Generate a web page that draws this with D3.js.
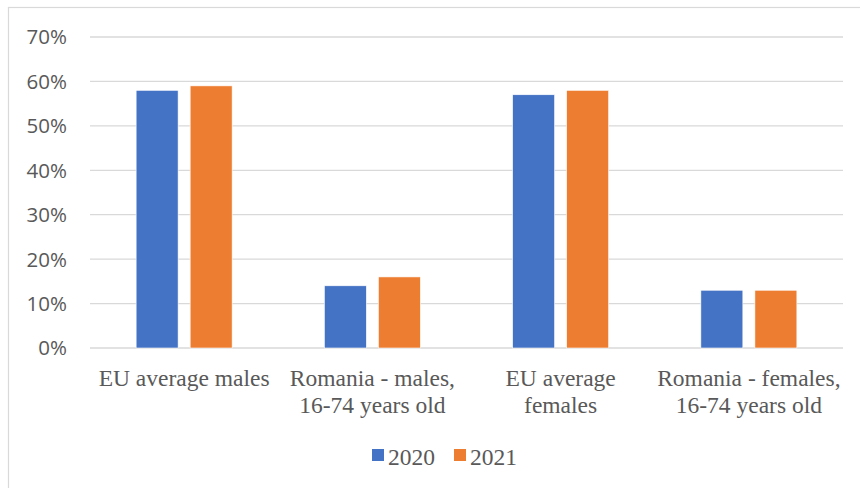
<!DOCTYPE html>
<html>
<head>
<meta charset="utf-8">
<script src="https://cdn.jsdelivr.net/npm/d3@7"></script>
<style>
  html, body { margin: 0; padding: 0; background: #ffffff; }
  svg { display: block; }
  .serif { font-family: "Liberation Serif", "Times New Roman", Times, "Nimbus Roman", "Nimbus Roman No9 L", FreeSerif, "Noto Serif", "DejaVu Serif", Tinos, Georgia, serif; }
</style>
</head>
<body>
<div id="chart"></div>
<script>
// Share of people (%) by group, 2020 vs 2021
const categories = [
  ["EU average males"],
  ["Romania - males,", "16-74 years old"],
  ["EU average", "females"],
  ["Romania - females,", "16-74 years old"]
];
const seriesNames = ["2020", "2021"];
const values2020 = [58, 14, 57, 13];
const values2021 = [59, 16, 58, 13];
const yTicks = [0, 10, 20, 30, 40, 50, 60, 70];
const colors = ["#4472C4", "#ED7D31"];

const W = 860, H = 488;
const plot = { left: 90, right: 843, top: 37, bottom: 348 };

const svg = d3.select("#chart").append("svg")
  .attr("width", W).attr("height", H);

// chart area outline (open to the right and bottom)
svg.append("rect")
  .attr("x", 8.5).attr("y", 7.5)
  .attr("width", 900).attr("height", 600)
  .attr("fill", "#ffffff")
  .attr("stroke", "#D9D9D9").attr("stroke-width", 1.2);

const x = d3.scaleBand()
  .domain(d3.range(categories.length))
  .range([plot.left, plot.right])
  .paddingInner(0).paddingOuter(0);

const y = d3.scaleLinear().domain([0, 70]).range([plot.bottom, plot.top]);

// horizontal gridlines
svg.append("g").selectAll("line")
  .data(yTicks)
  .join("line")
  .attr("x1", plot.left).attr("x2", plot.right)
  .attr("y1", d => y(d)).attr("y2", d => y(d))
  .attr("stroke", "#D9D9D9").attr("stroke-width", 1.3);

// y axis labels
const yAxis = d3.axisLeft(y).tickValues(yTicks).tickFormat(d => d + "%").tickSize(0).tickPadding(0);
const yg = svg.append("g").attr("transform", `translate(${67},0)`).call(yAxis);
yg.select(".domain").remove();
yg.selectAll("text")
  .attr("font-family", "'Open Sans', sans-serif")
  .attr("font-size", 20.5)
  .attr("fill", "#595959")
  .attr("dy", "0.34em");

// bars
const series = [values2020, values2021];
const bw = x.bandwidth();
const barW = bw * 0.223;
const gap = bw * 0.064;
const inner = d3.scaleBand().domain([0, 1]).range([0, barW * 2 + gap]).paddingInner(gap / (barW + gap));
const groupOffset = (bw - (barW * 2 + gap)) / 2;

series.forEach((vals, si) => {
  svg.append("g").selectAll("rect")
    .data(vals)
    .join("rect")
    .attr("x", (d, i) => x(i) + groupOffset + inner(si))
    .attr("width", inner.bandwidth())
    .attr("y", d => y(d))
    .attr("height", d => y(0) - y(d))
    .attr("fill", colors[si])
    .attr("stroke", "#ffffff").attr("stroke-width", 0.6);
});

// category labels
const xl = svg.append("g");
categories.forEach((lines, i) => {
  const t = xl.append("text")
    .attr("class", "serif")
    .attr("x", x(i) + bw / 2)
    .attr("y", 386)
    .attr("text-anchor", "middle")
    .attr("font-size", 23.5)
    .attr("fill", "#595959");
  lines.forEach((ln, k) => {
    t.append("tspan").attr("x", x(i) + bw / 2).attr("dy", k === 0 ? 0 : 27).text(ln);
  });
});

// legend
const legend = svg.append("g");
const legendX = [372, 454];
seriesNames.forEach((name, i) => {
  legend.append("rect")
    .attr("x", legendX[i]).attr("y", 449)
    .attr("width", 12).attr("height", 12)
    .attr("fill", colors[i]);
  legend.append("text")
    .attr("class", "serif")
    .attr("x", legendX[i] + 16).attr("y", 465)
    .attr("font-size", 23.5)
    .attr("fill", "#595959")
    .text(name);
});
</script>
</body>
</html>
